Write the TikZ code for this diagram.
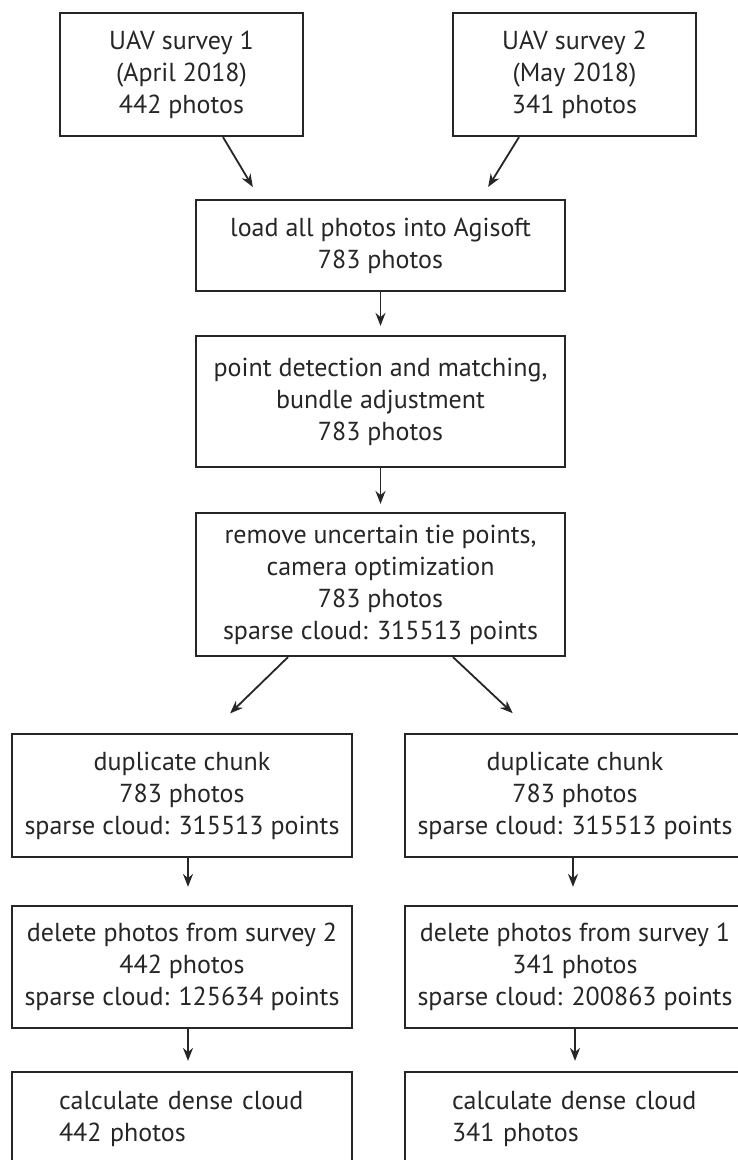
\documentclass[tikz,border=0pt]{standalone}
\usepackage{fontspec}
\setmainfont{PT Sans}
\usetikzlibrary{arrows.meta}

\begin{document}
\begin{tikzpicture}[x=1pt, y=-1pt,
    box/.style={draw=black!85, line width=2.2pt, align=center, text=black!85,
                font=\fontsize{26}{32}\selectfont},
    arr/.style={draw=black!85, line width=1.8pt, -{Stealth[length=13pt,width=10pt]}}]

%\draw[help lines,step=20] (0,0) grid (738,1160);
\useasboundingbox (0,0) rectangle (738,1160);
\clip (0,0) rectangle (738,1160);

% the two surveys
\node[box, minimum width=243pt, minimum height=123pt] (survey1) at (181.5,74.5)
      {UAV survey 1\\(April 2018)\\442 photos};
\node[box, minimum width=243pt, minimum height=123pt] (survey2) at (574.5,74.5)
      {UAV survey 2\\(May 2018)\\341 photos};

% common processing
\node[box, minimum width=369pt, minimum height=91pt] (load) at (380.5,245.5)
      {load all photos into Agisoft\\783 photos};
\node[box, minimum width=369pt, minimum height=131pt] (match) at (380.5,401.5)
      {point detection and matching,\\bundle adjustment\\783 photos};
\node[box, minimum width=369pt, minimum height=143pt] (optimize) at (380.5,584.5)
      {remove uncertain tie points,\\camera optimization\\783 photos\\sparse cloud: 315513 points};

% one chunk per survey
\node[box, minimum width=340pt, minimum height=123pt] (dupl) at (182,795.5)
      {duplicate chunk\\783 photos\\sparse cloud: 315513 points};
\node[box, minimum width=340pt, minimum height=123pt] (dupr) at (575,795.5)
      {duplicate chunk\\783 photos\\sparse cloud: 315513 points};
\node[box, minimum width=340pt, minimum height=122pt] (dell) at (182,967)
      {delete photos from survey 2\\442 photos\\sparse cloud: 125634 points};
\node[box, minimum width=340pt, minimum height=122pt] (delr) at (575,967)
      {delete photos from survey 1\\341 photos\\sparse cloud: 200863 points};
\node[box, minimum width=340pt, minimum height=94pt, text width=246pt, align=left] (densel) at (182,1119)
      {calculate dense cloud\\442 photos};
\node[box, minimum width=340pt, minimum height=94pt, text width=246pt, align=left] (denser) at (575,1119)
      {calculate dense cloud\\341 photos};

\draw[arr, shorten >=13.8pt] ([xshift=41.5pt]survey1.south) -- ([xshift=-120.6pt]load.north);
\draw[arr, shorten >=14pt] ([xshift=-55.5pt]survey2.south) -- ([xshift=100.3pt]load.north);
\draw[arr, shorten >=9pt] (load.south) -- (match.north);
\draw[arr, shorten >=8pt] (match.south) -- (optimize.north);
\draw[arr, shorten >=28pt] ([xshift=-92.5pt]optimize.south) -- ([xshift=28pt]dupl.north);
\draw[arr, shorten >=28.8pt] ([xshift=72.5pt]optimize.south) -- ([xshift=-41.3pt]dupr.north);
\draw[arr, shorten >=18pt] ([xshift=6pt]dupl.south) -- ([xshift=6pt]dell.north);
\draw[arr, shorten >=18pt] ([xshift=-2pt]dupr.south) -- ([xshift=-2pt]delr.north);
\draw[arr, shorten >=10pt] ([xshift=6pt]dell.south) -- ([xshift=6pt]densel.north);
\draw[arr, shorten >=10pt] (delr.south) -- (denser.north);

\end{tikzpicture}
\end{document}
